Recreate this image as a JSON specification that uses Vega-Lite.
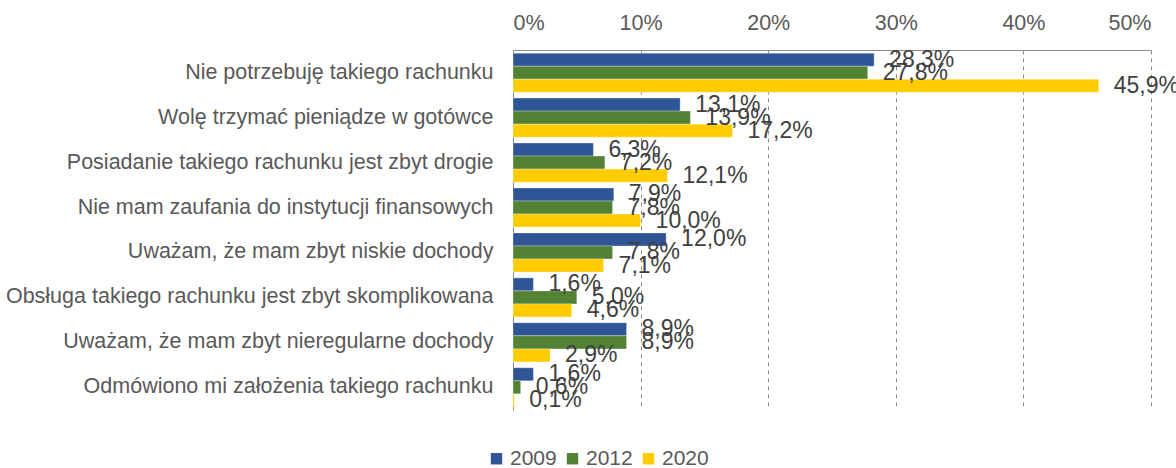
{
  "$schema": "https://vega.github.io/schema/vega-lite/v6.json",
  "width": 638,
  "height": 360,
  "autosize": {"type": "none"},
  "padding": {"left": 513, "top": 50, "right": 25, "bottom": 58},
  "background": "white",
  "config": {
    "locale": {
      "number": {"decimal": ",", "thousands": " ", "grouping": [3], "currency": ["", " zł"]}
    },
    "view": {"stroke": null},
    "font": "Liberation Sans"
  },
  "data": {
    "values": [
      {"reason": "Nie potrzebuję takiego rachunku", "year": "2009", "value": 0.283},
      {"reason": "Nie potrzebuję takiego rachunku", "year": "2012", "value": 0.278},
      {"reason": "Nie potrzebuję takiego rachunku", "year": "2020", "value": 0.459},
      {"reason": "Wolę trzymać pieniądze w gotówce", "year": "2009", "value": 0.131},
      {"reason": "Wolę trzymać pieniądze w gotówce", "year": "2012", "value": 0.139},
      {"reason": "Wolę trzymać pieniądze w gotówce", "year": "2020", "value": 0.172},
      {"reason": "Posiadanie takiego rachunku jest zbyt drogie", "year": "2009", "value": 0.063},
      {"reason": "Posiadanie takiego rachunku jest zbyt drogie", "year": "2012", "value": 0.072},
      {"reason": "Posiadanie takiego rachunku jest zbyt drogie", "year": "2020", "value": 0.121},
      {"reason": "Nie mam zaufania do instytucji finansowych", "year": "2009", "value": 0.079},
      {"reason": "Nie mam zaufania do instytucji finansowych", "year": "2012", "value": 0.078},
      {"reason": "Nie mam zaufania do instytucji finansowych", "year": "2020", "value": 0.100},
      {"reason": "Uważam, że mam zbyt niskie dochody", "year": "2009", "value": 0.120},
      {"reason": "Uważam, że mam zbyt niskie dochody", "year": "2012", "value": 0.078},
      {"reason": "Uważam, że mam zbyt niskie dochody", "year": "2020", "value": 0.071},
      {"reason": "Obsługa takiego rachunku jest zbyt skomplikowana", "year": "2009", "value": 0.016},
      {"reason": "Obsługa takiego rachunku jest zbyt skomplikowana", "year": "2012", "value": 0.050},
      {"reason": "Obsługa takiego rachunku jest zbyt skomplikowana", "year": "2020", "value": 0.046},
      {"reason": "Uważam, że mam zbyt nieregularne dochody", "year": "2009", "value": 0.089},
      {"reason": "Uważam, że mam zbyt nieregularne dochody", "year": "2012", "value": 0.089},
      {"reason": "Uważam, że mam zbyt nieregularne dochody", "year": "2020", "value": 0.029},
      {"reason": "Odmówiono mi założenia takiego rachunku", "year": "2009", "value": 0.016},
      {"reason": "Odmówiono mi założenia takiego rachunku", "year": "2012", "value": 0.006},
      {"reason": "Odmówiono mi założenia takiego rachunku", "year": "2020", "value": 0.001}
    ]
  },
  "encoding": {
    "y": {
      "field": "reason",
      "type": "nominal",
      "sort": null,
      "title": null,
      "scale": {"paddingInner": 0.13, "paddingOuter": 0.07},
      "axis": {
        "ticks": false,
        "domain": true,
        "domainColor": "#8c8c8c",
        "labelFontSize": 21.5,
        "labelColor": "#595959",
        "labelPadding": 20,
        "labelLimit": 520,
        "grid": false
      }
    },
    "x": {
      "field": "value",
      "type": "quantitative",
      "title": null,
      "scale": {"domain": [0, 0.5], "nice": false},
      "axis": {
        "orient": "top",
        "format": ".0%",
        "values": [0, 0.1, 0.2, 0.3, 0.4, 0.5],
        "ticks": false,
        "domain": true,
        "domainColor": "#8c8c8c",
        "labelFontSize": 21.5,
        "labelColor": "#595959",
        "labelPadding": 16,
        "grid": true,
        "gridColor": "#8c8c8c",
        "gridDash": [4, 4],
        "gridWidth": 1
      }
    },
    "yOffset": {
      "field": "year",
      "type": "nominal",
      "scale": {"paddingInner": 0, "paddingOuter": 0}
    }
  },
  "layer": [
    {
      "mark": {"type": "bar", "stroke": "#ffffff", "strokeWidth": 0.5, "strokeOpacity": 0.6},
      "encoding": {
        "color": {
          "field": "year",
          "type": "nominal",
          "title": null,
          "scale": {"domain": ["2009", "2012", "2020"], "range": ["#2F5597", "#548235", "#FFCC00"]},
          "legend": {
            "orient": "none",
            "legendX": -27,
            "legendY": 398,
            "direction": "horizontal",
            "symbolType": "square",
            "symbolSize": 130,
            "symbolStrokeWidth": 0,
            "labelFontSize": 21,
            "labelColor": "#595959",
            "columnPadding": 5,
            "labelOffset": 3
          }
        }
      }
    },
    {
      "mark": {"type": "text", "align": "left", "baseline": "middle", "dx": 15, "fontSize": 23, "color": "#404040"},
      "encoding": {
        "text": {"field": "value", "type": "quantitative", "format": ".1%"}
      }
    }
  ]
}
